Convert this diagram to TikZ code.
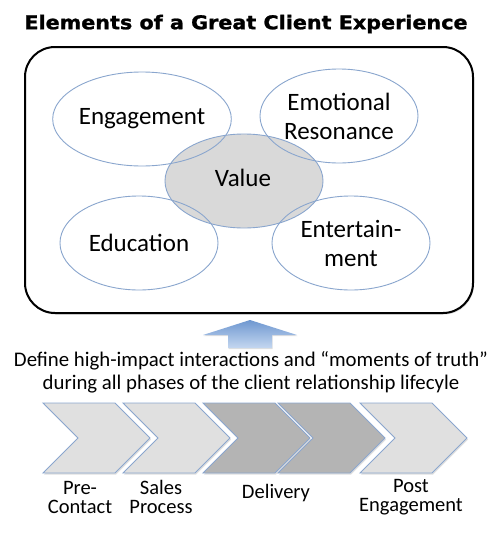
\documentclass[tikz,border=0pt]{standalone}
\usepackage{fontspec}
\setmainfont{Carlito}
\newfontfamily\titlefont{DejaVu Sans}[BoldFeatures={FakeBold=1.2}]
\usetikzlibrary{shapes.geometric,shadows}
\definecolor{ellblue}{HTML}{8AA6CE}
\definecolor{valgray}{HTML}{D9D9D9}
\definecolor{chevlight}{HTML}{E0E0E0}
\definecolor{chevdark}{HTML}{B4B4B4}
\definecolor{arrowtop}{HTML}{6E97D0}
\definecolor{arrowbot}{HTML}{C4D7F0}
\tikzset{
  elem/.style={ellipse, draw=ellblue, line width=0.9pt, minimum width=158pt, minimum height=94pt, inner sep=0pt, align=center, font=\fontsize{25}{29}\selectfont},
  chevlab/.style={align=center, inner sep=1pt, font=\fontsize{20.5}{19}\selectfont},
  chevbox/.style={draw=ellblue, line width=0.9pt, line join=miter},
}
\begin{document}
\begin{tikzpicture}[x=1pt,y=-1pt]
\useasboundingbox (0,0) rectangle (502,533);
% title
\node (title) at (246,24) {\scalebox{1.09}[1]{\titlefont\bfseries\fontsize{19}{21}\selectfont Elements of a Great Client Experience}};
% frame
\node (frame) [draw=black, line width=2pt, rounded corners=30pt, minimum width=448pt, minimum height=266pt, drop shadow={shadow xshift=1pt, shadow yshift=-1.5pt, opacity=0.3}, fill=white] at (249,180) {};
% ellipses
\node (val) [elem, fill=valgray] at (244,181) {};
\node (eng) [elem] at (142,119) {Engagement};
\node (emo) [elem] at (339,116) {Emotional\\Resonance};
\node (edu) [elem] at (139,243) {Education};
\node (ent) [elem] at (351,243) {Entertain-\\ment};
\node (valtxt) at (243,178) {\fontsize{25}{29}\selectfont Value};
% up arrow
\coordinate (arr) at (250,320);
\shade[top color=arrowtop, bottom color=arrowbot, drop shadow={shadow xshift=0.5pt, shadow yshift=-1pt, opacity=0.25}]
  (arr) -- ++(47,15) -- ++(-25,0) -- ++(0,13) -- ++(-44,0) -- ++(0,-13) -- ++(-25,0) -- cycle;
% define text
\node (def) [align=center, font=\fontsize{20.8}{23}\selectfont] at (251,372) {Define high-impact interactions and “moments of truth”\\during all phases of the client relationship lifecyle};
% chevrons
\foreach \lx/\fc [count=\i] in {43/chevlight,123/chevlight,203/chevdark,278/chevdark,360/chevlight}{
  \draw[chevbox, fill=\fc, drop shadow={shadow xshift=1pt, shadow yshift=-1.5pt, opacity=0.25}]
    (\lx,403) -- ++(72,0) -- ++(35,35) -- ++(-35,35) -- ++(-72,0) -- ++(35,-35) -- cycle;
}
\node (c1) [chevlab] at (80,497) {Pre-\\Contact};
\node (c2) [chevlab] at (161,497) {Sales\\Process};
\node (c3) [chevlab] at (276,493) {Delivery};
\node (c4) [chevlab] at (411,497) {Post\\Engagement};
\end{tikzpicture}
\end{document}
